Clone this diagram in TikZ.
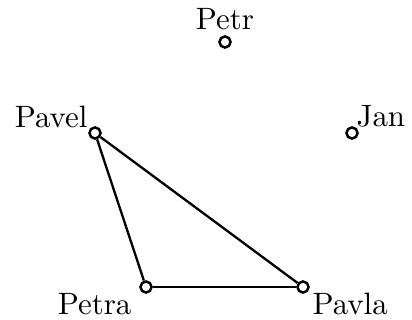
\documentclass[tikz,border=0pt]{standalone}
\begin{document}
\begin{tikzpicture}[x=0.3236pt,y=-0.3236pt,
  vert/.style={circle,draw,line width=0.8pt,inner sep=0pt,minimum size=3.6pt},
  lbl/.style={inner sep=0pt,font=\fontsize{10pt}{12pt}\selectfont},
  edge/.style={line width=0.75pt}]
\useasboundingbox (0,0) rectangle (412,320);
\node[vert] (petr) at (225,42) {};
\node[vert] (pavel) at (95,133) {};
\node[vert] (jan) at (352,133) {};
\node[vert] (petra) at (146,287) {};
\node[vert] (pavla) at (303,287) {};
\node[lbl,anchor=base] (tpetr) at (225,30) {Petr};
\node[lbl,anchor=base east] (tpavel) at (88,128) {Pavel};
\node[lbl,anchor=base west] (tjan) at (356,127) {Jan};
\node[lbl,anchor=base east] (tpetra) at (132,315) {Petra};
\node[lbl,anchor=base west] (tpavla) at (312,315) {Pavla};
\draw[edge] (pavel) -- (petra);
\draw[edge] (pavel) -- (pavla);
\draw[edge] (petra) -- (pavla);
\end{tikzpicture}
\end{document}
